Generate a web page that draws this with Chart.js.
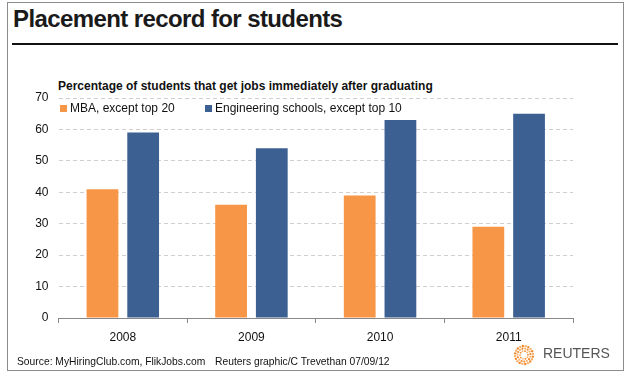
<!DOCTYPE html>
<html>
<head>
<meta charset="utf-8">
<script src="https://cdn.jsdelivr.net/npm/chart.js@4"></script>
<style>
  html, body { margin: 0; padding: 0; background: #fff; }
  body { width: 626px; height: 374px; position: relative; overflow: hidden; font-family: "Liberation Sans", Arial, sans-serif; }
  #frame { position: absolute; left: 7px; top: 2px; width: 617px; height: 369px; border: 1px solid #8c8c8c; box-sizing: border-box; }
  #title { position: absolute; left: 13px; top: 5px; font-size: 24px; font-weight: bold; color: #1a1a1a; letter-spacing: -0.6px; white-space: nowrap; }
  #rule { position: absolute; left: 12px; top: 43px; width: 606px; height: 2px; background: #111; }
  #subtitle { position: absolute; left: 58px; top: 79px; font-size: 12px; font-weight: bold; color: #111; white-space: nowrap; letter-spacing: 0px; }
  #wrap { position: absolute; left: 0; top: 0; width: 626px; height: 374px; }
  .leg { position: absolute; top: 101px; font-size: 12px; color: #111; white-space: nowrap; }
  .sw { display: inline-block; width: 7px; height: 7px; margin-right: 3px; vertical-align: 0px; }
  #source { position: absolute; left: 17px; top: 356px; font-size: 10.3px; color: #111; white-space: nowrap; }
  #credit { position: absolute; left: 215px; top: 356px; font-size: 10.3px; color: #111; white-space: nowrap; }
  #reuters { position: absolute; left: 543px; top: 345px; font-size: 14px; color: #555; white-space: nowrap; }
  #logo { position: absolute; left: 513px; top: 344px; }
</style>
</head>
<body>
<div id="frame"></div>
<div id="title">Placement record for students</div>
<div id="rule"></div>
<div id="subtitle">Percentage of students that get jobs immediately after graduating</div>
<div id="wrap"><canvas id="c" width="626" height="374"></canvas></div>
<div id="leg0" class="leg" style="left:60px"></div>
<div id="leg1" class="leg" style="left:205px"></div>
<div id="source">Source: MyHiringClub.com, FlikJobs.com</div>
<div id="credit">Reuters graphic/C Trevethan 07/09/12</div>
<canvas id="logo" width="22" height="22"></canvas>
<div id="reuters">REUTERS</div>
<script>
const categories = ["2008", "2009", "2010", "2011"];
const seriesNames = ["MBA, except top 20", "Engineering schools, except top 10"];
const mbaValues = [41, 36, 39, 29];
const engValues = [59, 54, 63, 65];
const yTicks = [0, 10, 20, 30, 40, 50, 60, 70];
const colors = ["#F79646", "#3B6091"];

// legend (HTML text)
[0, 1].forEach(i => {
  const el = document.getElementById("leg" + i);
  const sw = document.createElement("span");
  sw.className = "sw";
  sw.style.background = colors[i];
  el.appendChild(sw);
  el.appendChild(document.createTextNode(seriesNames[i]));
});

// Reuters logo: dotted rings
(function () {
  const cv = document.getElementById("logo");
  const g = cv.getContext("2d");
  const cx = 11, cy = 11;
  const rings = [[9, 20, 1.2], [6.5, 15, 1.1], [4, 10, 0.9]];
  rings.forEach(([r, n, s]) => {
    for (let k = 0; k < n; k++) {
      const a = (k / n) * Math.PI * 2 + r * 0.3;
      g.beginPath();
      g.fillStyle = k % 2 ? "#F7B26E" : "#F08A2C";
      g.arc(cx + r * Math.cos(a), cy + r * Math.sin(a), s, 0, Math.PI * 2);
      g.fill();
    }
  });
})();

new Chart(document.getElementById("c"), {
  type: "bar",
  data: {
    labels: categories,
    datasets: [
      { label: seriesNames[0], data: mbaValues, backgroundColor: colors[0], categoryPercentage: 0.633, barPercentage: 0.78 },
      { label: seriesNames[1], data: engValues, backgroundColor: colors[1], categoryPercentage: 0.633, barPercentage: 0.78 }
    ]
  },
  options: {
    responsive: false,
    animation: false,
    layout: { padding: { left: 0, right: 53, top: 98, bottom: 26 } },
    plugins: { legend: { display: false }, tooltip: { enabled: false } },
    scales: {
      x: {
        grid: { display: true, offset: true, drawOnChartArea: false, drawTicks: true, tickLength: 5, color: "#888" },
        border: { display: true, color: "#888", width: 1 },
        ticks: { color: "#111", font: { family: "Liberation Sans", size: 12 }, padding: 7 },
        afterFit: s => { s.height = 30; }
      },
      y: {
        min: 0, max: 70,
        afterBuildTicks: s => { s.ticks = yTicks.map(v => ({ value: v })); },
        grid: { color: "#cfcfcf", drawTicks: false },
        border: { display: false, dash: [4, 3] },
        ticks: { color: "#111", font: { family: "Liberation Sans", size: 12 }, padding: 10 },
        afterFit: s => { s.width = 58.5; }
      }
    }
  }
});
</script>
</body>
</html>
